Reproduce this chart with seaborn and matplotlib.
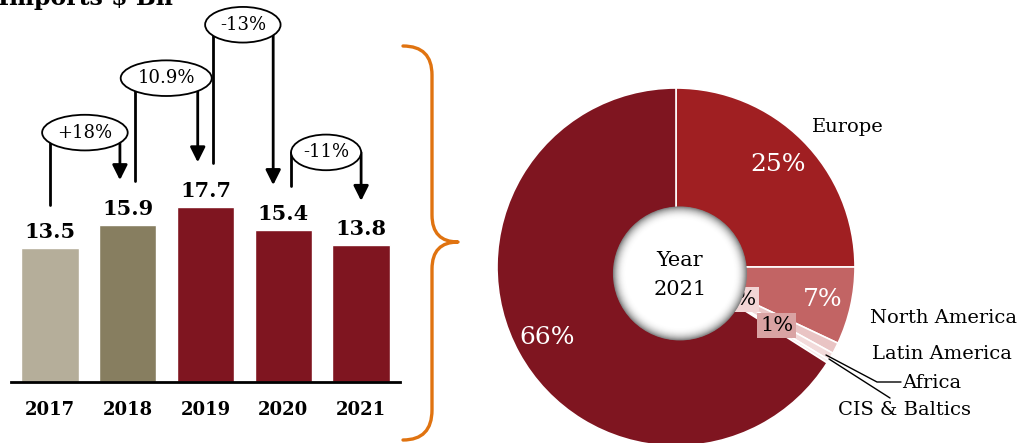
import numpy as np
import pandas as pd
import matplotlib
matplotlib.use("Agg")
import matplotlib.pyplot as plt
from matplotlib.patches import Ellipse, Circle, PathPatch
from matplotlib.path import Path
import seaborn as sns

# bar chart data
years = ["2017", "2018", "2019", "2020", "2021"]
imports_bn = [13.5, 15.9, 17.7, 15.4, 13.8]
bar_colors = ["#B5AE9A", "#877E60", "#7F1520", "#7F1520", "#7F1520"]

# year on year change labels
changes = ["+18%", "10.9%", "-13%", "-11%"]
change_label_y = [25.2, 30.7, 36.1, 23.2]
change_left_x = [0.0, 1.09, 2.09, 3.10]
change_right_x = [0.90, 1.90, 2.87, 4.0]
change_width = [1.1, 1.17, 0.97, 0.9]

# donut data (2021)
regions = ["Europe", "North America", "Latin America", "Africa", "CIS & Baltics", "Asia"]
shares = [25, 7, 1, 0.7, 0.3, 66]
pie_colors = ["#A01F22", "#C26464", "#E9C4C4", "#F2DADA", "#F8ECEC", "#7F1520"]

sns.set_style("white")
plt.rcParams["font.family"] = ["DejaVu Serif"]
plt.rcParams["text.color"] = "black"
plt.rcParams["xtick.color"] = "black"
plt.rcParams["axes.edgecolor"] = "black"

fig = plt.figure(figsize=(10.24, 4.43), dpi=100)
W, H = 1024, 443

# ---- bars ----
ax = fig.add_axes([11 / W, (H - 382) / H, 389 / W, 382 / H])
df = pd.DataFrame({"year": years, "value": imports_bn})
sns.barplot(data=df, x="year", y="value", hue="year", palette=bar_colors,
            legend=False, width=0.74, saturation=1, ax=ax)
ax.set_xlim(-0.5, 4.5)
ax.set_ylim(0, 38.6)
for s in ["top", "right", "left"]:
    ax.spines[s].set_visible(False)
ax.spines["bottom"].set_linewidth(2)
ax.set_yticks([])
ax.set_xlabel("")
ax.set_ylabel("")
ax.tick_params(axis="x", which="major", length=0, pad=14, labelsize=13)
for t in ax.get_xticklabels():
    t.set_fontweight("bold")
ax.set_xticks(np.arange(-0.5, 5, 1), minor=True)
ax.tick_params(axis="x", which="minor", length=7, width=1.6, direction="out")

for i, v in enumerate(imports_bn):
    ax.text(i, v + 0.6, f"{v}", ha="center", va="bottom", fontsize=15,
            fontweight="bold")

for i, lab in enumerate(changes):
    xl, xr = change_left_x[i], change_right_x[i]
    yc = change_label_y[i]
    ax.plot([xl, xl], [imports_bn[i] + 4.4, yc], color="black", lw=2,
            clip_on=False, zorder=3)
    ax.annotate("", xy=(xr, imports_bn[i + 1] + 4.5), xytext=(xr, yc),
                arrowprops=dict(arrowstyle="-|>,head_length=0.9,head_width=0.45",
                                color="black", lw=2, shrinkA=0, shrinkB=0),
                annotation_clip=False, zorder=3)
    ell = Ellipse(((xl + xr) / 2, yc), change_width[i], 3.6, facecolor="white",
                  edgecolor="black", lw=1.3, zorder=4, clip_on=False)
    ax.add_patch(ell)
    ax.text((xl + xr) / 2, yc, lab, ha="center", va="center", fontsize=13,
            zorder=5)

fig.text(-2 / W, 1 - 5 / H, "Imports $ Bn", ha="left", va="baseline",
         fontsize=17, fontweight="bold")

# ---- brace ----
bax = fig.add_axes([0, 0, 1, 1])
bax.set_xlim(0, W)
bax.set_ylim(H, 0)
bax.axis("off")
verts = [(403, 46), (432, 46), (432, 75), (432, 215), (432, 242), (458, 242),
         (432, 242), (432, 269), (432, 410), (432, 440), (403, 440)]
codes = [Path.MOVETO, Path.CURVE3, Path.CURVE3, Path.LINETO, Path.CURVE3, Path.CURVE3,
         Path.CURVE3, Path.CURVE3, Path.LINETO, Path.CURVE3, Path.CURVE3]
bax.add_patch(PathPatch(Path(verts, codes), facecolor="none", edgecolor="#E07310",
                        lw=2.4, capstyle="round", joinstyle="round"))

# ---- donut ----
cx, cy, r = 676, 267, 179
pax = fig.add_axes([(cx - r) / W, (H - cy - r) / H, 2 * r / W, 2 * r / H])
wedges, _ = pax.pie(shares, colors=pie_colors, startangle=90, counterclock=False,
                    radius=1, wedgeprops=dict(edgecolor="white", linewidth=1.2))
pax.set_aspect("auto")
pax.set_xlim(-1, 1)
pax.set_ylim(-1, 1)
pax.axis("off")

pct_dist = [0.81, 0.84, 0.40, 0.65, None, 0.82]
pct_color = ["white", "white", "black", "black", None, "white"]
pct_box = [None, None, "#F2D5D5", "#D9A3A3", None, None]
for w, s, d, c, b in zip(wedges, shares, pct_dist, pct_color, pct_box):
    if d is None:
        continue
    ang = np.deg2rad((w.theta1 + w.theta2) / 2)
    kw = {}
    if b:
        kw["bbox"] = dict(boxstyle="square,pad=0.15", facecolor=b, edgecolor="none")
    pax.text(d * np.cos(ang), d * np.sin(ang), f"{round(s):.0f}%", ha="center",
             va="center", fontsize=18 if b is None else 15, color=c, **kw)

# hole with soft shaded rim
hx, hy, hr = 0.022, -0.036, 67 / r
n = 30
for k in range(n):
    f = k / (n - 1)
    rad = hr * (1 - 0.2 * f)
    g = 0.5 + 0.5 * (1 - (1 - f) ** 2.5)
    pax.add_patch(Circle((hx, hy), rad, facecolor=(g, g, g), edgecolor="none",
                         zorder=5 + k * 0.01))
pax.text(hx, hy + 0.075, "Year", ha="center", va="center", fontsize=15, zorder=7)
pax.text(hx, hy - 0.092, "2021", ha="center", va="center", fontsize=15, zorder=7)

# region labels
lab_fs = 14
pax.text((848 - cx) / r, (cy - 127) / r, "Europe", ha="center", va="center", fontsize=lab_fs)
pax.text((944 - cx) / r, (cy - 318) / r, "North America", ha="center", va="center", fontsize=lab_fs)
pax.text((942 - cx) / r, (cy - 354) / r, "Latin America", ha="center", va="center", fontsize=lab_fs)
pax.text((902 - cx) / r, (cy - 383) / r, "Africa", ha="left", va="center", fontsize=lab_fs)
pax.text((905 - cx) / r, (cy - 410) / r, "CIS & Baltics", ha="center", va="center", fontsize=lab_fs)
pax.plot((np.array([826, 877, 901]) - cx) / r, (cy - np.array([355, 382, 382])) / r,
         color="black", lw=1, clip_on=False)
pax.plot((np.array([829, 890]) - cx) / r, (cy - np.array([359, 398])) / r,
         color="black", lw=1, clip_on=False)

fig.savefig("out.png", dpi=100)
